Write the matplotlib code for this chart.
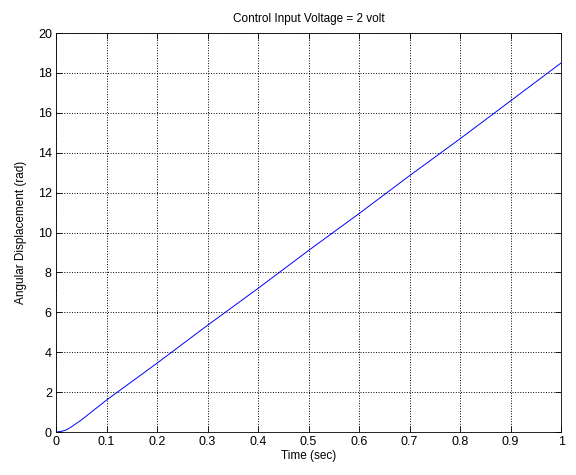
import matplotlib
matplotlib.use('Agg')
import matplotlib.pyplot as plt

# 読み取った値
time_sec = [0, 0.01, 0.02, 0.03, 0.05, 0.1, 0.2, 0.3, 0.4, 0.5, 0.6, 0.7, 0.8, 0.9, 1.0]
angle_rad = [0, 0.03, 0.1, 0.25, 0.6, 1.6, 3.45, 5.35, 7.2, 9.1, 10.95, 12.85, 14.7, 16.6, 18.5]
x_ticks = [0, 0.1, 0.2, 0.3, 0.4, 0.5, 0.6, 0.7, 0.8, 0.9, 1]
y_ticks = [0, 2, 4, 6, 8, 10, 12, 14, 16, 18, 20]

plt.rcParams['font.family'] = ['Liberation Sans', 'DejaVu Sans']
plt.rcParams['font.size'] = 8.5

fig = plt.figure(figsize=(5.76, 4.75), dpi=100)
ax = fig.add_axes([0.0972, 0.0905, 0.877, 0.84])

ax.plot(time_sec, angle_rad, color='blue', linewidth=0.7)

ax.set_xlim(0, 1)
ax.set_ylim(0, 20)
ax.set_xticks(x_ticks)
ax.set_xticklabels(['0', '0.1', '0.2', '0.3', '0.4', '0.5', '0.6', '0.7', '0.8', '0.9', '1'])
ax.set_yticks(y_ticks)
ax.tick_params(direction='in', top=True, right=True, length=4, width=0.6, pad=3, labelsize=9)
ax.grid(True, linestyle=':', color='black', linewidth=0.7)
for s in ax.spines.values():
    s.set_linewidth(0.6)

ax.set_xlabel('Time (sec)', labelpad=1)
ax.set_ylabel('Angular Displacement (rad)', labelpad=8)
ax.set_title('Control Input Voltage = 2 volt', fontsize=8.5, pad=8)

fig.savefig('out.png', dpi=100)
